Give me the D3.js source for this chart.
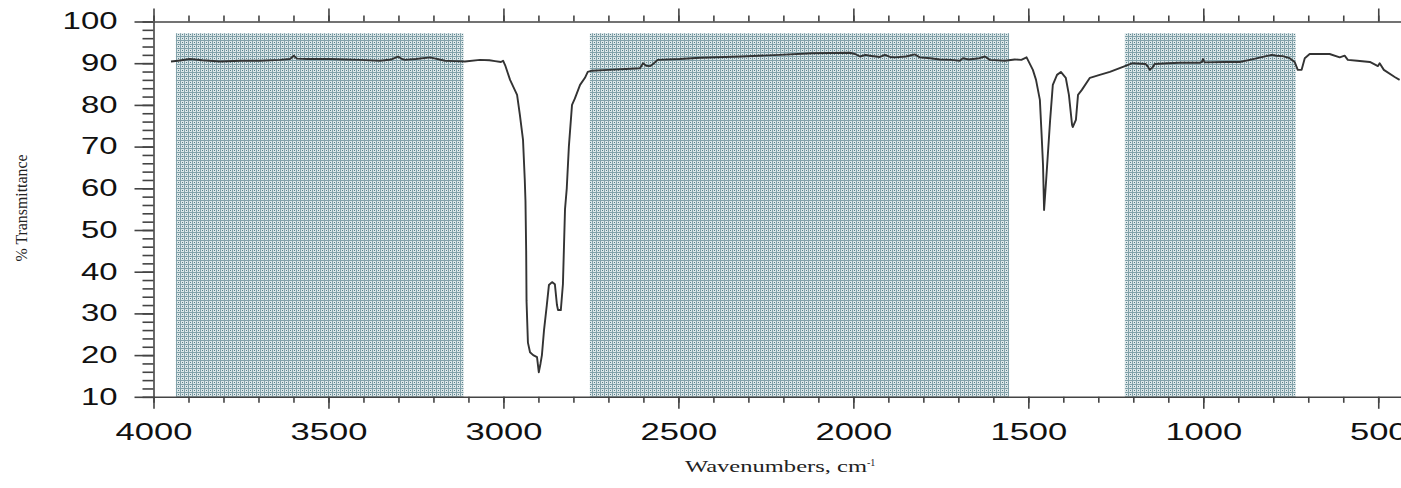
<!DOCTYPE html>
<html>
<head>
<meta charset="utf-8">
<script src="https://cdn.jsdelivr.net/npm/d3@7"></script>
<style>
  body { margin: 0; background: #fff; }
  svg { display: block; }
  .tick text { font-family: "Liberation Sans", Arial, sans-serif; font-size: 23px; fill: #111; }
</style>
</head>
<body>
<svg width="1401" height="488"></svg>
<script>
// spectrum
const wavenumbers = [3950,3930,3896,3860,3810,3750,3696,3639,3610,3599,3590,3560,3496,3450,3410,3353,3320,3301,3290,3281,3250,3210,3167,3140,3110,3067,3040,3024,3007,3001,2995,2981,2961,2953,2944,2939,2937,2935,2934,2930,2924,2915,2904,2899,2894,2890,2884,2876,2870,2861,2853,2847,2844,2836,2830,2824,2819,2813,2804,2796,2781,2767,2759,2747,2700,2650,2610,2601,2592,2580,2570,2559,2496,2439,2320,2210,2119,2010,1995,1981,1965,1953,1924,1910,1895,1881,1850,1824,1810,1780,1753,1720,1696,1687,1670,1640,1624,1610,1567,1539,1520,1505,1487,1478,1467,1462,1458,1455,1449,1438,1430,1418,1407,1393,1384,1375,1373,1364,1358,1347,1324,1296,1267,1224,1202,1165,1159,1153,1145,1139,1100,1067,1010,1004,1001,996,940,896,867,830,804,790,773,753,739,730,719,710,696,639,610,596,587,560,524,501,496,484,453,439];
const transmittance = [90.4,90.6,91.0,90.7,90.4,90.6,90.6,90.8,91.0,91.8,91.1,91.0,91.0,90.9,90.8,90.6,90.9,91.6,91.0,90.8,91.0,91.4,90.6,90.5,90.4,90.8,90.7,90.5,90.3,90.6,89.5,86,82.4,77.6,71.6,62,57,45,33,23,20.7,20.0,19.5,15.9,18,20,26,32,36.8,37.5,37,32,30.8,30.8,37,55,60,70,80,81.5,84.8,86.5,87.9,88.2,88.4,88.6,88.8,90.0,89.4,89.3,90.0,90.8,91.0,91.3,91.6,92.0,92.4,92.5,92.2,91.6,92.0,91.8,91.5,92.0,91.5,91.4,91.6,92.1,91.4,91.2,90.9,90.8,90.6,91.2,90.9,91.2,91.6,90.8,90.6,90.9,90.8,91.4,88.4,86,81.2,72.8,65.6,54.8,62,76,84.8,87.2,87.9,86.5,82.4,75.2,74.7,76.4,82.4,83.6,86.5,87.2,87.9,89.3,90.0,89.8,89.3,88.4,89.0,89.8,90.0,90.1,90.1,90.3,91.0,90.2,90.3,90.3,90.8,91.5,92.0,91.8,91.7,91.2,90.3,88.4,88.4,91.2,92.2,92.2,91.4,91.8,90.8,90.6,90.3,89.3,90.0,88.4,86.7,86.0];

// shaded regions (from / to wavenumber) and their top
const regionStart = [3936, 2753, 1224];
const regionEnd = [3114, 1555, 736];
const regionTop = 97.2;

const xMajor = [4000,3500,3000,2500,2000,1500,1000,500];
const xMinor = d3.range(4000, 400, -100);
const yMajor = [10,20,30,40,50,60,70,80,90,100];
const yMinor = d3.range(10, 101, 2);

const svg = d3.select("svg");
const x = d3.scaleLinear().domain([4000, 435]).range([153.5, 1401]);
const y = d3.scaleLinear().domain([10, 100]).range([396.8, 21.5]);

// mesh fill for the regions
const pat = svg.append("defs").append("pattern")
    .attr("id", "mesh").attr("patternUnits", "userSpaceOnUse")
    .attr("width", 4).attr("height", 4);
pat.append("rect").attr("width", 4).attr("height", 4).attr("fill", "#dde7e9");
pat.append("rect").attr("width", 4).attr("height", 1).attr("fill", "#82a2aa");
pat.append("rect").attr("width", 1).attr("height", 4).attr("fill", "#82a2aa");
pat.append("rect").attr("x", 2).attr("y", 2).attr("width", 1).attr("height", 1).attr("fill", "#55808a");

svg.selectAll("rect.region")
    .data(regionStart)
    .enter()
    .append("rect")
    .attr("class", "region")
    .attr("x", (d, i) => x(d))
    .attr("y", y(regionTop))
    .attr("width", (d, i) => x(regionEnd[i]) - x(d))
    .attr("height", y(10) - y(regionTop))
    .attr("fill", "url(#mesh)");

// bottom axis: majors with labels, minors without
svg.append("g").attr("transform", "translate(0," + y(10) + ")")
    .call(d3.axisBottom(x).tickValues(xMinor).tickSize(6).tickFormat("").tickSizeOuter(0))
    .call(g => g.select(".domain").remove());
const xa = svg.append("g").attr("transform", "translate(0," + y(10) + ")")
    .call(d3.axisBottom(x).tickValues(xMajor).tickSize(12).tickPadding(15).tickSizeOuter(0).tickFormat(d3.format("d")));
xa.selectAll("text")
    .attr("textLength", d => String(d).length * 19.2)
    .attr("lengthAdjust", "spacingAndGlyphs");

// top axis, ticks only
svg.append("g").attr("transform", "translate(0," + y(100) + ")")
    .call(d3.axisTop(x).tickValues(xMinor).tickSize(6).tickFormat("").tickSizeOuter(0));
svg.append("g").attr("transform", "translate(0," + y(100) + ")")
    .call(d3.axisTop(x).tickValues(xMajor).tickSize(13).tickFormat("").tickSizeOuter(0))
    .call(g => g.select(".domain").remove());

// left axis
svg.append("g").attr("transform", "translate(" + x(4000) + ",0)")
    .call(d3.axisLeft(y).tickValues(yMinor).tickSize(11).tickFormat("").tickSizeOuter(0));
const ya = svg.append("g").attr("transform", "translate(" + x(4000) + ",0)")
    .call(d3.axisLeft(y).tickValues(yMajor).tickSize(19).tickPadding(17).tickSizeOuter(0));
ya.select(".domain").remove();
ya.selectAll("text")
    .attr("textLength", d => String(d).length * 18.3)
    .attr("lengthAdjust", "spacingAndGlyphs");

svg.selectAll(".domain, .tick line").attr("stroke", "#444").attr("stroke-width", 1.6);

// the spectrum
const pts = wavenumbers.map((w, i) => [w, transmittance[i]]);
svg.append("path")
    .datum(pts)
    .attr("fill", "none")
    .attr("stroke", "#333")
    .attr("stroke-width", 1.9)
    .attr("stroke-linejoin", "round")
    .attr("d", d3.line().x(d => x(d[0])).y(d => y(d[1])));

// axis titles
svg.append("text")
    .attr("transform", "translate(27,208) rotate(-90)")
    .attr("text-anchor", "middle")
    .attr("font-family", "'Liberation Serif', 'Times New Roman', serif")
    .attr("font-size", "16px")
    .attr("fill", "#222")
    .attr("textLength", 107)
    .attr("lengthAdjust", "spacingAndGlyphs")
    .text("% Transmittance");

const xt = svg.append("text")
    .attr("x", 685)
    .attr("y", 472)
    .attr("font-family", "'Liberation Serif', 'Times New Roman', serif")
    .attr("font-size", "16px")
    .attr("fill", "#222");
xt.append("tspan").attr("textLength", 182).attr("lengthAdjust", "spacingAndGlyphs").text("Wavenumbers, cm");
xt.append("tspan").attr("dy", -6).attr("font-size", "10px").text("-1");
</script>
</body>
</html>
